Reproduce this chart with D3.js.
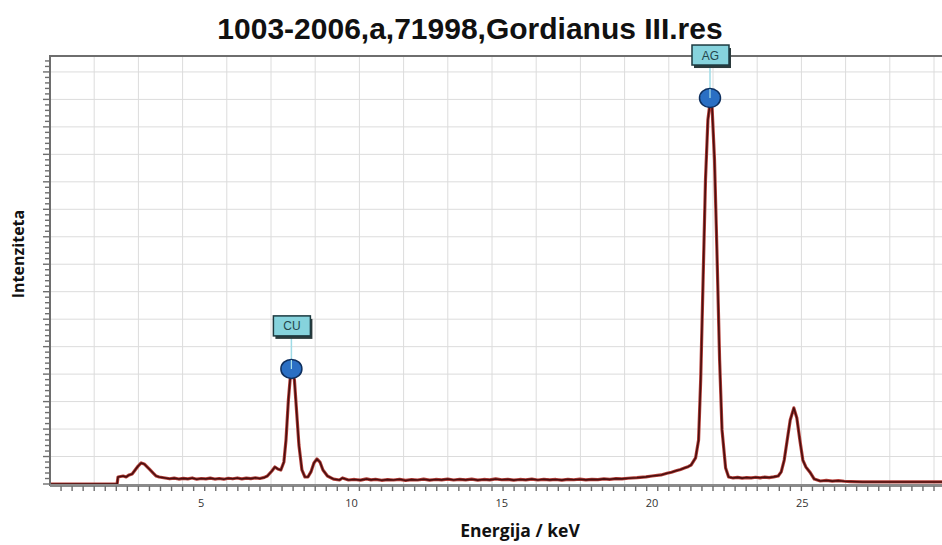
<!DOCTYPE html>
<html>
<head>
<meta charset="utf-8">
<script src="https://cdn.jsdelivr.net/npm/d3@7"></script>
<style>
  body { margin: 0; background: #fff; }
  svg { display: block; }
</style>
</head>
<body>
<svg id="chart"></svg>
<script>
// spectrum (keV / counts)
let energy = [0, 1.0, 2.2, 2.23, 2.4, 2.5, 2.6, 2.7, 2.8, 2.9, 3.0, 3.1, 3.2, 3.3, 3.4, 3.5, 3.6,
  3.8, 3.95, 4.1, 4.25, 4.4, 4.55, 4.7, 4.85, 5.0, 5.15, 5.3, 5.45, 5.6, 5.75, 5.9, 6.05, 6.2, 6.35, 6.5, 6.65, 6.8, 6.95, 7.1,
  7.2, 7.35, 7.45, 7.55, 7.65, 7.75, 7.82, 7.9, 7.97, 8.03, 8.1, 8.17, 8.25, 8.35, 8.45, 8.55, 8.65, 8.75, 8.85, 8.95, 9.05, 9.2, 9.4, 9.6, 9.7,
  9.9, 10.1, 10.3, 10.5, 10.65, 10.8, 11.0, 11.2, 11.4, 11.6, 11.8, 12.0, 12.2, 12.4, 12.6, 12.8, 13.0, 13.2, 13.4, 13.6, 13.8, 14.0, 14.2, 14.4,
  14.6, 14.8, 15.0, 15.2, 15.4, 15.6, 15.8, 16.0, 16.2, 16.4, 16.6, 16.8, 17.0, 17.2, 17.4, 17.6, 17.8, 18.0, 18.2, 18.4, 18.6, 18.8, 19.0,
  19.2, 19.5, 19.8, 20.0, 20.3, 20.5, 20.65, 20.8, 20.95, 21.1, 21.2, 21.3, 21.45, 21.55, 21.62, 21.7, 21.78, 21.86, 21.93,
  22.0, 22.08, 22.16, 22.25, 22.33, 22.45, 22.55, 22.7, 22.85, 23.0, 23.15, 23.3, 23.45, 23.6, 23.75, 23.9, 24.05, 24.2, 24.3, 24.4,
  24.5, 24.6, 24.72, 24.82, 24.92, 25.02, 25.12, 25.25, 25.4, 25.6, 25.8, 26.0, 26.2, 26.4, 26.6, 27.0, 28.0, 29.0, 30.0]
let counts = [0, 0, 0, 255, 290, 255, 330, 365, 510, 655, 765, 730, 620, 510, 400, 290, 255,
  220, 190, 215, 180, 205, 185, 220, 175, 200, 185, 215, 180, 200, 175, 210, 190, 220, 185, 215, 195, 225, 200, 240,
  290, 475, 620, 545, 510, 800, 1600, 3060, 3970, 4080, 3790, 2690, 1420, 510, 255, 255, 440, 765, 910, 800, 510, 290, 180, 145, 220,
  145, 165, 140, 185, 150, 170, 135, 160, 145, 170, 130, 160, 145, 175, 140, 165, 150, 180, 145, 170, 150, 175, 140, 165,
  150, 185, 155, 170, 140, 165, 150, 180, 145, 170, 150, 165, 140, 170, 155, 175, 150, 170, 160, 185, 170, 195, 185,
  210, 230, 260, 290, 330, 390, 430, 480, 530, 590, 630, 690, 950, 1600, 3790, 7430, 11070, 13250, 13870,
  13690, 11800, 8520, 4510, 1970, 580, 255, 220, 240, 215, 235, 220, 245, 225, 250, 235, 260, 290, 440, 870,
  1600, 2330, 2770, 2400, 1600, 870, 620, 440, 180, 110, 130, 105, 120, 100, 90, 75, 75, 75, 75]

let peakNames = ['CU', 'AG']
let peakEnergy = [8.0, 21.93]
let peakCounts = [4190, 14050]

let xTickValues = [5, 10, 15, 20, 25]

let W = 942, H = 545
let svg = d3.select('#chart').attr('width', W).attr('height', H)

let pLeft = 50, pTop = 56, pBottom = 484, pRight = W

let x = d3.scaleLinear().domain([0, 30]).range([51, 51 + 30 * 30.05])
let y = d3.scaleLinear().domain([0, 15580]).range([pBottom, pTop])
// the grid of this software is not tied to keV: 44.2px divisions from the left edge
let gx = d3.scaleLinear().domain([0, 21]).range([pLeft, pLeft + 21 * 44.2])

svg.append('defs').append('clipPath').attr('id', 'plot')
  .append('rect').attr('x', pLeft).attr('y', pTop - 2).attr('width', pRight - pLeft).attr('height', pBottom - pTop + 2)

// grid
let grid = svg.append('g').attr('stroke', '#dcdcdc').attr('stroke-width', 1)
grid.selectAll('.vg').data(d3.range(1, 21)).enter().append('line')
  .attr('x1', d => gx(d)).attr('x2', d => gx(d)).attr('y1', pTop).attr('y2', pBottom)
grid.selectAll('.hg').data(d3.range(1000, 15580, 1000)).enter().append('line')
  .attr('x1', pLeft).attr('x2', pRight).attr('y1', d => y(d)).attr('y2', d => y(d))

// frame
svg.append('line').attr('x1', pLeft).attr('x2', pRight).attr('y1', pTop).attr('y2', pTop)
  .attr('stroke', '#6e6e6e').attr('stroke-width', 2)
svg.append('line').attr('x1', pLeft).attr('x2', pLeft).attr('y1', pTop - 1).attr('y2', pBottom + 2)
  .attr('stroke', '#6e6e6e').attr('stroke-width', 2)
svg.append('line').attr('x1', pLeft).attr('x2', pRight).attr('y1', pBottom + 1.5).attr('y2', pBottom + 1.5)
  .attr('stroke', '#8a8a8a').attr('stroke-width', 3)

// y ticks (no labels)
svg.append('g').selectAll('line').data(d3.range(0, 15580, 200)).enter().append('line')
  .attr('x1', d => d % 1000 === 0 ? 43 : 45).attr('x2', pLeft)
  .attr('y1', d => y(d)).attr('y2', d => y(d))
  .attr('stroke', '#6e6e6e').attr('stroke-width', 1.4)

// x minor ticks, quarter of a grid division
svg.append('g').selectAll('line').data(d3.range(1, 84)).enter().append('line')
  .attr('x1', d => gx(d / 4)).attr('x2', d => gx(d / 4))
  .attr('y1', pBottom + 2).attr('y2', pBottom + 7)
  .attr('stroke', '#6e6e6e').attr('stroke-width', 1.4)

// x labels in keV
svg.append('g').selectAll('text').data(xTickValues).enter().append('text')
  .attr('x', d => x(d)).attr('y', 507)
  .attr('text-anchor', 'middle')
  .attr('font-family', '"Open Sans", sans-serif').attr('font-size', 11)
  .attr('fill', '#333')
  .text(d => d)

// spectrum
let line = d3.line().x((d, i) => x(energy[i])).y(d => y(d))
let spec = svg.append('g').attr('clip-path', 'url(#plot)')
spec.append('path').datum(counts).attr('d', line)
  .attr('fill', 'none').attr('stroke', '#b4403a').attr('stroke-width', 3.2).attr('stroke-linejoin', 'round')
spec.append('path').datum(counts).attr('d', line)
  .attr('fill', 'none').attr('stroke', '#4a0f0f').attr('stroke-width', 1.6).attr('stroke-linejoin', 'round')

// peak markers
let peaks = svg.append('g').selectAll('g').data(peakNames).enter().append('g')
peaks.append('line')
  .attr('x1', (d, i) => x(peakEnergy[i])).attr('x2', (d, i) => x(peakEnergy[i]))
  .attr('y1', (d, i) => y(peakCounts[i]) - 33).attr('y2', (d, i) => y(peakCounts[i]))
  .attr('stroke', '#9fdbe6').attr('stroke-width', 1.5)
peaks.append('ellipse')
  .attr('cx', (d, i) => x(peakEnergy[i])).attr('cy', (d, i) => y(peakCounts[i]))
  .attr('rx', 10.5).attr('ry', 9.5)
  .attr('fill', '#2a6fc4').attr('stroke', '#0e2f5e').attr('stroke-width', 1.5)
peaks.append('line')
  .attr('x1', (d, i) => x(peakEnergy[i])).attr('x2', (d, i) => x(peakEnergy[i]))
  .attr('y1', (d, i) => y(peakCounts[i]) - 9).attr('y2', (d, i) => y(peakCounts[i]))
  .attr('stroke', '#a8e0ea').attr('stroke-width', 1.2)
peaks.append('rect')
  .attr('x', (d, i) => x(peakEnergy[i]) - 16).attr('y', (d, i) => y(peakCounts[i]) - 50)
  .attr('width', 37).attr('height', 20)
  .attr('fill', '#2b3a3c')
peaks.append('rect')
  .attr('x', (d, i) => x(peakEnergy[i]) - 18).attr('y', (d, i) => y(peakCounts[i]) - 53)
  .attr('width', 37).attr('height', 20)
  .attr('fill', '#86d3dd').attr('stroke', '#1d3a40').attr('stroke-width', 1.5)
peaks.append('text')
  .attr('x', (d, i) => x(peakEnergy[i]) + 0.5).attr('y', (d, i) => y(peakCounts[i]) - 38.5)
  .attr('text-anchor', 'middle')
  .attr('font-family', '"Liberation Sans", Arial, sans-serif').attr('font-size', 12)
  .attr('fill', '#24454c')
  .text(d => d)

// titles
svg.append('text').attr('x', 470).attr('y', 39).attr('text-anchor', 'middle')
  .attr('font-family', '"Liberation Sans", Arial, sans-serif').attr('font-weight', 'bold').attr('font-size', 30)
  .attr('fill', '#111')
  .text('1003-2006,a,71998,Gordianus III.res')
svg.append('text').attr('x', 520).attr('y', 537).attr('text-anchor', 'middle')
  .attr('font-family', '"Open Sans", sans-serif').attr('font-weight', 'bold').attr('font-size', 17.5)
  .attr('fill', '#111')
  .text('Energija / keV')
svg.append('text').attr('transform', 'translate(24,254) rotate(-90)').attr('text-anchor', 'middle')
  .attr('font-family', '"Open Sans", sans-serif').attr('font-weight', 'bold').attr('font-size', 16)
  .attr('fill', '#111')
  .text('Intenziteta')
</script>
</body>
</html>
